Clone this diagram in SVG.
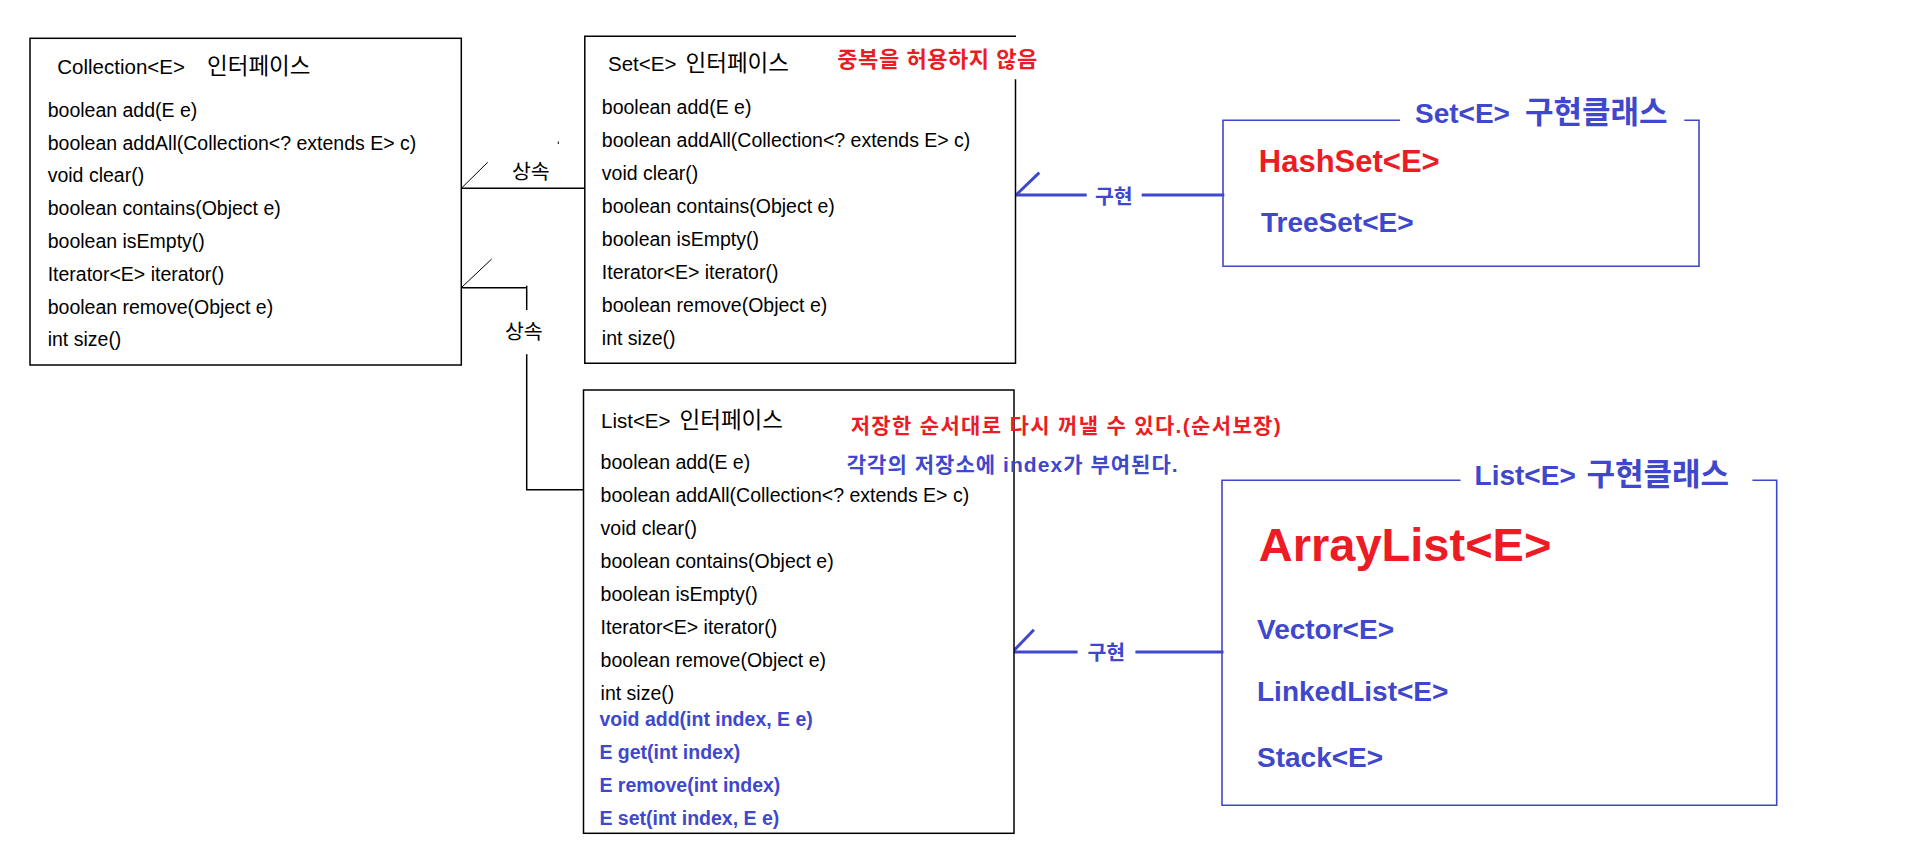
<svg xmlns="http://www.w3.org/2000/svg" width="1906" height="856" viewBox="0 0 1906 856">
<style>
text{font-family:"Liberation Sans","Noto Sans CJK KR",sans-serif;}
.t{font-size:20.5px;fill:#000;}
.tk{font-size:22.5px;}
.m{font-size:19.5px;fill:#000;}
.mb{font-size:19.5px;fill:#3F48CC;font-weight:bold;}
.box{fill:#fff;stroke:#000;stroke-width:1.5;}
.ibox{fill:none;stroke:#3F48CC;stroke-width:1.6;}
.red{fill:#ED1C24;font-weight:bold;}
.blue{fill:#3F48CC;font-weight:bold;}
.ik{font-size:31px;}
.lb{font-size:20.5px;fill:#000;}
.lbb{font-size:20.5px;fill:#3F48CC;font-weight:bold;}
.k{stroke:#000;stroke-width:1.5;fill:none;}
.kt{stroke:#000;stroke-width:1;fill:none;}
.b{stroke:#3F48CC;stroke-width:3;fill:none;}
</style>
<rect width="1906" height="856" fill="#fff"/>

<g id="connectors">
  <path class="k" d="M457.3,188.3 H588.3"/>
  <path class="kt" d="M461.3,188.3 L487.7,162.3"/>
  <path class="k" d="M454,287.7 H526.7"/>
  <path class="k" d="M526.7,285.7 V310"/>
  <path class="k" d="M526.7,354.3 V489.7 H583.6"/>
  <path class="kt" d="M461.3,287.7 L491.7,259"/>
  <rect x="557.8" y="141.5" width="1" height="2.5" fill="#000"/>
  <text class="lb" x="512" y="179.3">상속</text>
  <text class="lb" x="505" y="339.3">상속</text>
  <path class="b" d="M1015.3,195 H1086.7 M1141.7,195 H1224.3"/>
  <path class="b" d="M1016,195 L1039.3,172.7"/>
  <text class="lbb" x="1095" y="203.5">구현</text>
  <path class="b" d="M1012,652 H1077.6 M1135.4,652 H1223.5"/>
  <path class="b" d="M1012.5,652 L1033.9,629.7"/>
  <text class="lbb" x="1087.5" y="660.2">구현</text>
</g>

<g id="collection">
  <rect class="box" x="30" y="38.3" width="431.3" height="326.7"/>
  <text class="t" x="57.3" y="74.3">Collection&lt;E&gt;<tspan class="tk" x="207">인터페이스</tspan></text>
  <text class="m" x="47.7" y="116.7">boolean add(E e)</text>
  <text class="m" x="47.7" y="149.5">boolean addAll(Collection&lt;? extends E&gt; c)</text>
  <text class="m" x="47.7" y="182.3">void clear()</text>
  <text class="m" x="47.7" y="215.1">boolean contains(Object e)</text>
  <text class="m" x="47.7" y="247.9">boolean isEmpty()</text>
  <text class="m" x="47.7" y="280.7">Iterator&lt;E&gt; iterator()</text>
  <text class="m" x="47.7" y="313.5">boolean remove(Object e)</text>
  <text class="m" x="47.7" y="346.3">int size()</text>
</g>

<g id="set">
  <path fill="#fff" stroke="none" d="M584.8,36.3 H1015.5 V363.3 H584.8 Z"/>
  <path class="k" d="M1015.5,79.3 V363.3 H584.8 V36.3 H1016"/>
  <text class="t" x="608" y="70.7">Set&lt;E&gt;<tspan class="tk" x="685.5">인터페이스</tspan></text>
  <text class="red" x="837.3" y="67.3" font-size="22" textLength="200" lengthAdjust="spacing">중복을 허용하지 않음</text>
  <text class="m" x="601.8" y="113.5">boolean add(E e)</text>
  <text class="m" x="601.8" y="146.5">boolean addAll(Collection&lt;? extends E&gt; c)</text>
  <text class="m" x="601.8" y="179.5">void clear()</text>
  <text class="m" x="601.8" y="212.5">boolean contains(Object e)</text>
  <text class="m" x="601.8" y="245.5">boolean isEmpty()</text>
  <text class="m" x="601.8" y="278.5">Iterator&lt;E&gt; iterator()</text>
  <text class="m" x="601.8" y="311.5">boolean remove(Object e)</text>
  <text class="m" x="601.8" y="344.5">int size()</text>
</g>

<g id="list">
  <rect class="box" x="583.5" y="390" width="430.5" height="443.3"/>
  <text class="t" x="601" y="428.3">List&lt;E&gt;<tspan class="tk" x="679.5">인터페이스</tspan></text>
  <text class="red" x="850.7" y="432.7" font-size="21" textLength="430" lengthAdjust="spacing">저장한 순서대로 다시 꺼낼 수 있다.(순서보장)</text>
  <text class="blue" x="846.7" y="472.3" font-size="21" textLength="331" lengthAdjust="spacing">각각의 저장소에 index가 부여된다.</text>
  <text class="m" x="600.6" y="469">boolean add(E e)</text>
  <text class="m" x="600.6" y="501.8">boolean addAll(Collection&lt;? extends E&gt; c)</text>
  <text class="m" x="600.6" y="534.7">void clear()</text>
  <text class="m" x="600.6" y="567.7">boolean contains(Object e)</text>
  <text class="m" x="600.6" y="600.7">boolean isEmpty()</text>
  <text class="m" x="600.6" y="634">Iterator&lt;E&gt; iterator()</text>
  <text class="m" x="600.6" y="667">boolean remove(Object e)</text>
  <text class="m" x="600.6" y="699.7">int size()</text>
  <text class="mb" x="599.4" y="725.7">void add(int index, E e)</text>
  <text class="mb" x="599.4" y="759">E get(int index)</text>
  <text class="mb" x="599.4" y="791.7">E remove(int index)</text>
  <text class="mb" x="599.4" y="824.7">E set(int index, E e)</text>
</g>

<g id="set-impl">
  <path class="ibox" d="M1400,120.3 H1223 V266.3 H1699 V120.3 H1684.3"/>
  <text class="blue" x="1415" y="122.7" font-size="28">Set&lt;E&gt;<tspan class="ik" x="1525">구현클래스</tspan></text>
  <text class="red" x="1258.8" y="171.7" font-size="31">HashSet&lt;E&gt;</text>
  <text class="blue" x="1261" y="232.3" font-size="28">TreeSet&lt;E&gt;</text>
</g>

<g id="list-impl">
  <path class="ibox" d="M1460.6,480.3 H1222 V805.3 H1776.7 V480.3 H1752.4"/>
  <text class="blue" x="1474.6" y="484.7" font-size="28">List&lt;E&gt;<tspan class="ik" x="1586.5">구현클래스</tspan></text>
  <text class="red" x="1258.8" y="561.3" font-size="47">ArrayList&lt;E&gt;</text>
  <text class="blue" x="1257" y="638.7" font-size="28">Vector&lt;E&gt;</text>
  <text class="blue" x="1257" y="701.3" font-size="28">LinkedList&lt;E&gt;</text>
  <text class="blue" x="1257" y="767.3" font-size="28">Stack&lt;E&gt;</text>
</g>
</svg>
